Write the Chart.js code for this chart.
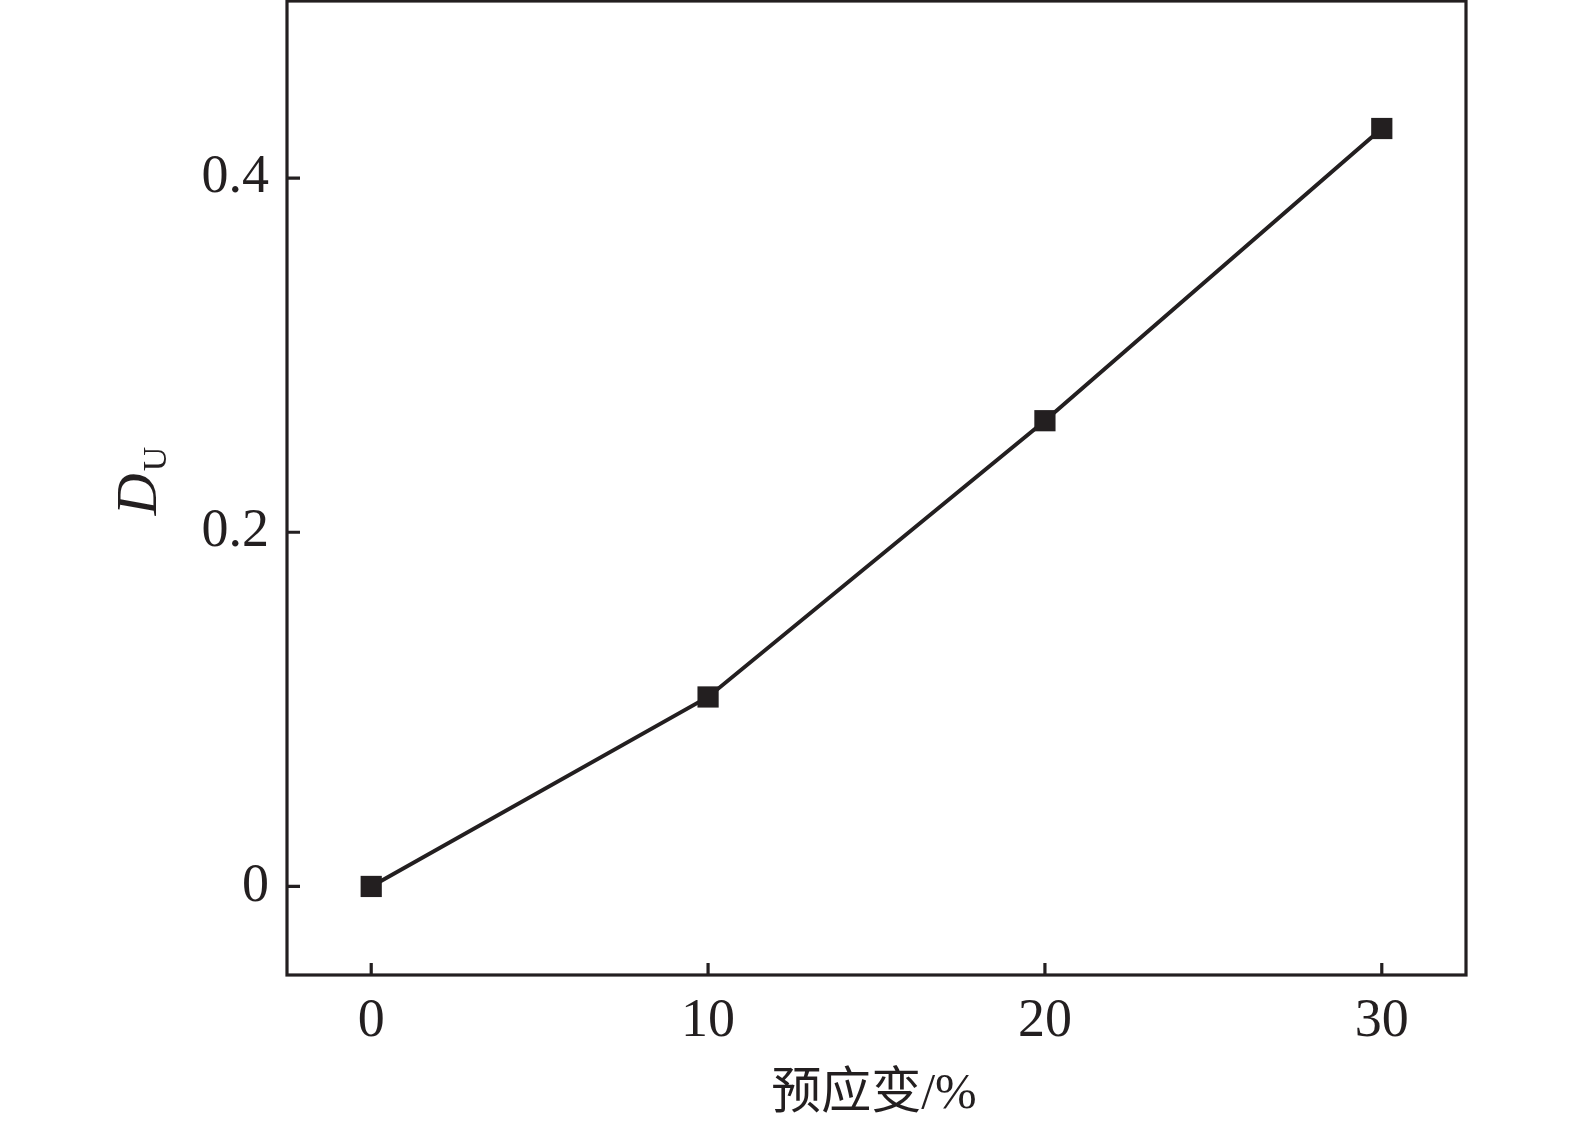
<!DOCTYPE html>
<html>
<head>
<meta charset="utf-8">
<script src="https://cdn.jsdelivr.net/npm/chart.js@4.4.0/dist/chart.umd.min.js"></script>
<style>
    html, body { margin: 0; padding: 0; background: #fff; }
    #wrap { width: 1575px; height: 1136px; }
</style>
</head>
<body>
<div id="wrap"><canvas id="du-chart" width="1575" height="1136"></canvas></div>
<script>
// données
const preStrain = [0, 10, 20, 30];
const duValues = [0, 0.107, 0.263, 0.428];
const xTicks = [0, 10, 20, 30];
const yTicks = [0, 0.2, 0.4];

const ink = "#231f20";
const serif = "'Liberation Serif', 'Times New Roman', serif";

// cadre + graduations vers l'intérieur
const framePlugin = {
    id: "frame",
    afterDraw(chart) {
        const ctx = chart.ctx;
        const a = chart.chartArea;
        const xs = chart.scales.x;
        const ys = chart.scales.y;
        ctx.save();
        ctx.strokeStyle = ink;
        ctx.lineWidth = 3.2;
        ctx.strokeRect(a.left, a.top, a.right - a.left, a.bottom - a.top);
        ctx.beginPath();
        xTicks.forEach(v => {
            const px = xs.getPixelForValue(v);
            ctx.moveTo(px, a.bottom);
            ctx.lineTo(px, a.bottom - 12);
        });
        yTicks.forEach(v => {
            const py = ys.getPixelForValue(v);
            ctx.moveTo(a.left, py);
            ctx.lineTo(a.left + 13, py);
        });
        ctx.stroke();

        // titre axe x
        ctx.fillStyle = ink;
        ctx.textAlign = "center";
        ctx.textBaseline = "middle";
        ctx.font = "50px " + serif + ", 'Noto Sans CJK SC'";
        ctx.fillText("预应变/%", 874, 1095);

        // titre axe y : D italique, indice U
        ctx.translate(137, 482);
        ctx.rotate(-Math.PI / 2);
        ctx.textAlign = "left";
        ctx.textBaseline = "alphabetic";
        ctx.font = "italic 58px " + serif;
        const w = ctx.measureText("D").width;
        ctx.font = "34px " + serif;
        const wu = ctx.measureText("U").width;
        const x0 = -(w + wu) / 2;
        ctx.font = "italic 58px " + serif;
        ctx.fillText("D", x0, 19);
        ctx.font = "34px " + serif;
        ctx.fillText("U", x0 + w + 2, 29);
        ctx.restore();
    }
};

const config = {
    type: "scatter",
    data: {
        datasets: [{
            data: preStrain.map((x, i) => ({ x: x, y: duValues[i] })),
            showLine: true,
            borderColor: ink,
            borderWidth: 4,
            backgroundColor: ink,
            pointStyle: "rect",
            pointRadius: 15,
            pointBorderWidth: 0,
            pointBackgroundColor: ink,
        }]
    },
    options: {
        responsive: false,
        animation: false,
        layout: {
            autoPadding: false,
            padding: { top: 1, right: 109, left: 0, bottom: 0 }
        },
        plugins: {
            legend: { display: false },
            tooltip: { enabled: false },
        },
        scales: {
            x: {
                type: "linear",
                min: -2.5,
                max: 32.5,
                afterBuildTicks: scale => {
                    scale.ticks = xTicks.map(v => ({ value: v }));
                },
                afterFit: scale => {
                    scale.height = 161;
                    scale.paddingLeft = 0;
                    scale.paddingRight = 0;
                },
                grid: { display: false, drawTicks: false },
                border: { display: false },
                ticks: {
                    color: ink,
                    padding: 14,
                    maxRotation: 0,
                    font: { family: serif, size: 54 },
                    callback: v => String(v),
                }
            },
            y: {
                type: "linear",
                min: -0.05,
                max: 0.5,
                afterBuildTicks: scale => {
                    scale.ticks = yTicks.map(v => ({ value: v }));
                },
                afterFit: scale => {
                    scale.width = 287;
                    scale.paddingTop = 0;
                    scale.paddingBottom = 0;
                },
                grid: { display: false, drawTicks: false },
                border: { display: false },
                ticks: {
                    color: ink,
                    padding: 18,
                    font: { family: serif, size: 54 },
                    callback: v => (v === 0 ? "0" : v.toFixed(1)),
                }
            }
        }
    },
    plugins: [framePlugin]
};

const ctx = document.getElementById("du-chart").getContext("2d");
new Chart(ctx, config);
</script>
</body>
</html>
